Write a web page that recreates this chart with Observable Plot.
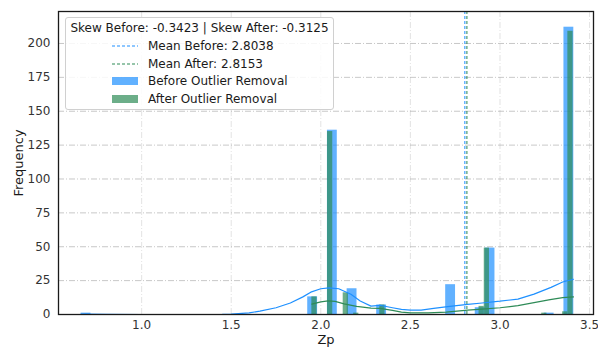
<!DOCTYPE html>
<html><head><meta charset="utf-8">
<script src="https://cdn.jsdelivr.net/npm/d3@7"></script>
<script src="https://cdn.jsdelivr.net/npm/@observablehq/plot@0.6"></script>
<style>
body{margin:0;background:#fff;font-family:"DejaVu Sans",sans-serif;}
#wrap{position:relative;width:598px;height:347px;}
#legend{position:absolute;left:65px;top:17px;width:269px;height:93px;background:rgba(255,255,255,0.85);border:1px solid #d0d0d0;border-radius:3px;box-sizing:border-box;font-size:12px;color:#1a1a1a;}
#legend .t{position:absolute;left:0;right:0;top:3px;text-align:center;white-space:nowrap;}
#legend .row{position:absolute;left:46px;height:15px;display:flex;align-items:center;white-space:nowrap;}
#legend .row svg{margin-right:10px;}
</style></head><body><div id="wrap"></div>
<script>
// Histogram "Before Outlier Removal": 50 bins starting at 0.662, width 0.055
const beforeBinStart = 0.662, beforeBinWidth = 0.055;
const beforeBinIndex = [0, 23, 25, 27, 30, 37, 40, 41, 47, 49];
const beforeCounts   = [1, 13, 136, 19, 7, 22, 5, 49, 1, 212];
// Histogram "After Outlier Removal": 50 bins starting at 1.95, width 0.02916
const afterBinStart = 1.95, afterBinWidth = 0.02916;
const afterBinIndex = [0, 3, 6, 8, 13, 32, 33, 44, 48, 49];
const afterCounts   = [13, 135, 16, 1, 7, 6, 49, 1, 2, 209];
// KDE curves
const kdeBeforeX = [0.66, 0.69, 0.8, 1.0, 1.3, 1.45, 1.5, 1.6, 1.66, 1.75, 1.83, 1.9, 1.944, 2.0, 2.045, 2.1, 2.168, 2.22, 2.28, 2.33, 2.4, 2.45, 2.5, 2.56, 2.63, 2.72, 2.82, 2.9, 3.0, 3.1, 3.19, 3.285, 3.35, 3.41];
const kdeBeforeY = [0.2, 0.25, 0.05, 0, 0, 0.1, 0.3, 1.2, 2.5, 5, 8.5, 13, 16.5, 19, 19.7, 19, 15, 10, 6.2, 6.8, 5, 3.8, 3.3, 3.2, 4.5, 6, 7.5, 8.5, 9.8, 11.4, 15, 20, 24, 26];
const kdeAfterX = [1.95, 2.0, 2.04, 2.08, 2.13, 2.2, 2.28, 2.33, 2.4, 2.45, 2.5, 2.6, 2.7, 2.82, 2.9, 3.0, 3.1, 3.19, 3.28, 3.35, 3.41];
const kdeAfterY = [7.6, 9.3, 10, 9.7, 7.8, 6, 4.7, 4.5, 3, 1.8, 1.2, 1.2, 1.8, 3.3, 4, 5, 6.5, 8.7, 11, 12.5, 13];
const meanBefore = 2.8038, meanAfter = 2.8153;
const skewBefore = -0.3423, skewAfter = -0.3125;
const xTicks = [1.0, 1.5, 2.0, 2.5, 3.0, 3.5];
const yTicks = [0, 25, 50, 75, 100, 125, 150, 175, 200];

const beforeBars = beforeBinIndex.map((k, i) => ({x1: beforeBinStart + k*beforeBinWidth, x2: beforeBinStart + (k+1)*beforeBinWidth, y: beforeCounts[i]}));
const afterBars = afterBinIndex.map((k, i) => ({x1: afterBinStart + k*afterBinWidth, x2: afterBinStart + (k+1)*afterBinWidth, y: afterCounts[i]}));
const kdeBefore = kdeBeforeX.map((x, i) => ({x, y: kdeBeforeY[i]}));
const kdeAfter = kdeAfterX.map((x, i) => ({x, y: kdeAfterY[i]}));

const BLUE = "#1e90ff", GREEN = "#2e8b57";
const chart = Plot.plot({
  width: 598, height: 347,
  marginLeft: 58, marginRight: 5, marginTop: 11, marginBottom: 33,
  style: {fontFamily: "DejaVu Sans, sans-serif", fontSize: "12px", color: "#333", background: "white"},
  x: {domain: [0.536, 3.522]},
  y: {domain: [0, 223.6]},
  marks: [
    Plot.gridY(yTicks, {stroke: "#b0b0b0", strokeOpacity: 0.7, strokeDasharray: "6,2,1,2"}),
    Plot.gridX(xTicks, {stroke: "#b0b0b0", strokeOpacity: 0.35, strokeDasharray: "6,2,1,2"}),
    Plot.rectY(beforeBars, {x1: "x1", x2: "x2", y: "y", fill: BLUE, fillOpacity: 0.7}),
    Plot.rectY(afterBars, {x1: "x1", x2: "x2", y: "y", fill: GREEN, fillOpacity: 0.7}),
    Plot.line(kdeBefore, {x: "x", y: "y", stroke: BLUE, strokeWidth: 1.2}),
    Plot.line(kdeAfter, {x: "x", y: "y", stroke: GREEN, strokeWidth: 1.2}),
    Plot.ruleX([meanBefore], {stroke: BLUE, strokeWidth: 1.2, strokeDasharray: "3,2", strokeOpacity: 0.85}),
    Plot.ruleX([meanAfter], {stroke: GREEN, strokeWidth: 1.2, strokeDasharray: "3,2", strokeOpacity: 0.85}),
    Plot.axisX({ticks: xTicks, tickFormat: d => d.toFixed(1), tickSize: 0, tickPadding: 6, label: null}),
    Plot.axisY({ticks: yTicks, tickSize: 0, tickPadding: 8, label: null}),
    Plot.text(["Zp"], {frameAnchor: "bottom", dy: 25, lineAnchor: "middle", fontSize: 13, fill: "#1a1a1a"}),
    Plot.text(["Frequency"], {frameAnchor: "left", dx: -40, rotate: -90, textAnchor: "middle", lineAnchor: "middle", fontSize: 13, fill: "#1a1a1a"}),
    Plot.frame({stroke: "#1a1a1a", strokeWidth: 1.3})
  ]
});
const wrap = document.getElementById("wrap");
wrap.appendChild(chart);

const fmt = v => v.toFixed(4);
const legend = document.createElement("div");
legend.id = "legend";
const rows = [
  {label: `Mean Before: ${fmt(meanBefore)}`, type: "line", color: BLUE},
  {label: `Mean After: ${fmt(meanAfter)}`, type: "line", color: GREEN},
  {label: "Before Outlier Removal", type: "patch", color: BLUE},
  {label: "After Outlier Removal", type: "patch", color: GREEN}
];
let html = `<div class="t">Skew Before: ${fmt(skewBefore)} | Skew After: ${fmt(skewAfter)}</div>`;
const tops = [20, 38, 55, 73];
rows.forEach((r, i) => {
  const sw = r.type === "line"
    ? `<svg width="26" height="10"><line x1="0" x2="26" y1="5" y2="5" stroke="${r.color}" stroke-width="1.2" stroke-dasharray="3,2"/></svg>`
    : `<svg width="26" height="10"><rect x="0" y="1" width="26" height="8" fill="${r.color}" fill-opacity="0.7"/></svg>`;
  html += `<div class="row" style="top:${tops[i]}px">${sw}<span>${r.label}</span></div>`;
});
legend.innerHTML = html;
wrap.appendChild(legend);
</script>
</body></html>
